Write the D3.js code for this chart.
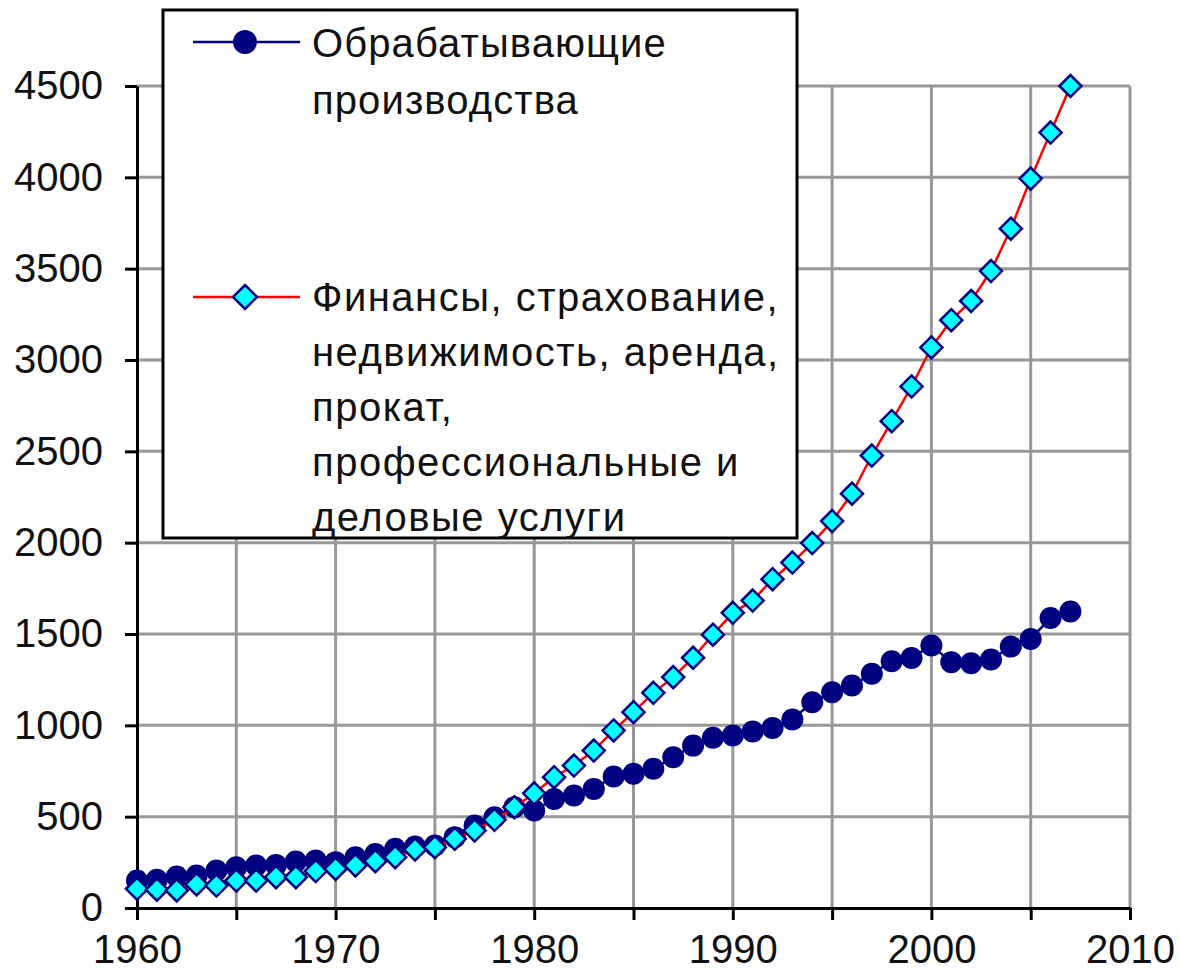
<!DOCTYPE html>
<html><head><meta charset="utf-8">
<script src="https://cdn.jsdelivr.net/npm/d3@7"></script>
<style>
html,body{margin:0;padding:0;background:#fff;}
svg{display:block;font-family:"Liberation Sans",Arial,sans-serif;}
</style></head>
<body>
<svg id="chart" width="1180" height="972"></svg>
<script>
const years = d3.range(1960, 2008);
const manufacturing = [150,154,172,178,205,223,233,236,255,260,251,278,296,324,337,342,388,452,497,552,
  534,597,616,652,720,735,762,825,889,932,944,966,986,1032,1126,1181,1218,1282,1351,1369,
  1437,1346,1340,1360,1431,1473,1588,1623];
const finance = [105,100,96,129,123,150,150,169,169,202,214,233,256,278,320,333,379,424,483,552,
  628,716,780,862,972,1072,1178,1264,1370,1496,1616,1683,1800,1891,1998,2118,2268,2477,2665,2855,
  3069,3218,3323,3487,3719,3993,4245,4500];
const xTicks = [1960,1970,1980,1990,2000,2010];
const yTicks = [0,500,1000,1500,2000,2500,3000,3500,4000,4500];
const legendManufacturing = ["Обрабатывающие","производства"];
const legendFinance = ["Финансы, страхование,","недвижимость, аренда,","прокат,","профессиональные и","деловые услуги"];

const svg = d3.select("#chart");
const x = d3.scaleLinear().domain([1960, 2010]).range([137, 1130]);
const y = d3.scaleLinear().domain([0, 4500]).range([908, 86]);
const grid = "#989898";
const tf = '"Liberation Sans",Arial,sans-serif';

// gridlines
const g = svg.append("g");
g.selectAll("line.v").data(d3.range(1965, 2011, 5)).join("line")
  .attr("x1", d => x(d)).attr("x2", d => x(d)).attr("y1", y(0)).attr("y2", y(4500))
  .attr("stroke", grid).attr("stroke-width", 3);
g.selectAll("line.h").data(d3.range(500, 4501, 500)).join("line")
  .attr("x1", x(1960)).attr("x2", x(2010)).attr("y1", d => y(d)).attr("y2", d => y(d))
  .attr("stroke", grid).attr("stroke-width", 3);

// axes
const yAxis = svg.append("g").attr("transform", `translate(${x(1960)},0)`)
  .call(d3.axisLeft(y).tickValues(yTicks).tickSize(12).tickPadding(22).tickSizeOuter(0)
    .tickFormat(d3.format("d")));
const xAxis = svg.append("g").attr("transform", `translate(0,${y(0)})`)
  .call(d3.axisBottom(x).tickValues(d3.range(1960, 2011, 5)).tickSize(12).tickSizeOuter(0)
    .tickFormat(d => xTicks.includes(d) ? d : ""));
[yAxis, xAxis].forEach(a => {
  a.select(".domain").attr("stroke", "#000").attr("stroke-width", 3);
  a.selectAll(".tick line").attr("stroke", "#000").attr("stroke-width", 3);
  a.selectAll(".tick text").attr("fill", "#111").attr("font-size", 40).attr("font-family", tf);
});
xAxis.selectAll(".tick text").attr("y", 55).attr("dy", 0);

// series
const line = d3.line().x((d, i) => x(years[i])).y(d => y(d));
svg.append("path").datum(manufacturing).attr("d", line)
  .attr("fill", "none").attr("stroke", "#000080").attr("stroke-width", 2.5);
svg.append("g").selectAll("circle").data(manufacturing).join("circle")
  .attr("cx", (d, i) => x(years[i])).attr("cy", d => y(d)).attr("r", 11)
  .attr("fill", "#000080");

svg.append("path").datum(finance).attr("d", line)
  .attr("fill", "none").attr("stroke", "#ff0000").attr("stroke-width", 2.5);
const diamond = s => `M0,${-s}L${s},0L0,${s}L${-s},0Z`;
svg.append("g").selectAll("path").data(finance).join("path")
  .attr("transform", (d, i) => `translate(${x(years[i])},${y(d)})`)
  .attr("d", diamond(11)).attr("fill", "#00ffff").attr("stroke", "#000080").attr("stroke-width", 2.5);

// legend
const lg = svg.append("g");
lg.append("rect").attr("x", 163).attr("y", 10).attr("width", 634).attr("height", 528)
  .attr("fill", "#fff").attr("stroke", "#000").attr("stroke-width", 3);
lg.append("line").attr("x1", 193).attr("x2", 300).attr("y1", 42).attr("y2", 42)
  .attr("stroke", "#000080").attr("stroke-width", 2.5);
lg.append("circle").attr("cx", 245).attr("cy", 42).attr("r", 12).attr("fill", "#000080");
lg.append("line").attr("x1", 193).attr("x2", 300).attr("y1", 297).attr("y2", 297)
  .attr("stroke", "#ff0000").attr("stroke-width", 2.5);
lg.append("path").attr("transform", "translate(245,297)").attr("d", diamond(12))
  .attr("fill", "#00ffff").attr("stroke", "#000080").attr("stroke-width", 2.5);
lg.selectAll("text.m").data(legendManufacturing).join("text")
  .attr("x", 312).attr("y", (d, i) => 57 + i * 57).text(d => d)
  .attr("font-size", 40).attr("font-family", tf).attr("fill", "#111").attr("letter-spacing", 1.1);
lg.selectAll("text.f").data(legendFinance).join("text")
  .attr("x", 312).attr("y", (d, i) => 311 + i * 55).text(d => d)
  .attr("font-size", 40).attr("font-family", tf).attr("fill", "#111").attr("letter-spacing", 1.5);
</script>
</body></html>
